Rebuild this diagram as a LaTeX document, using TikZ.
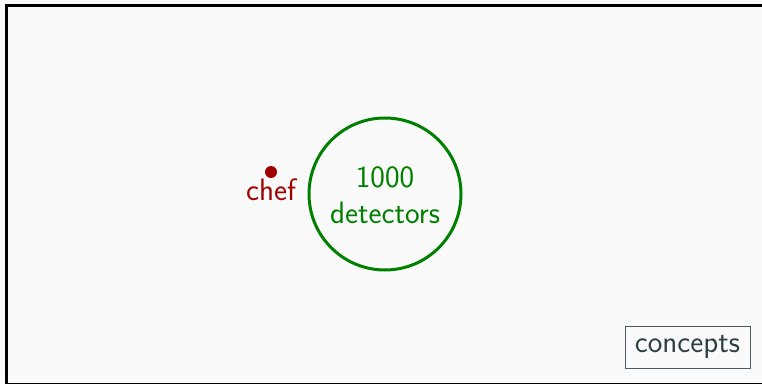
\documentclass[tikz,border=0pt]{standalone}
\usepackage{tikz}
\definecolor{bg}{HTML}{FAFAFA}
\definecolor{detgreen}{HTML}{008000}
\definecolor{chefred}{HTML}{A00000}
\definecolor{slate}{HTML}{2F3F46}
\definecolor{boxgray}{HTML}{4A5A60}
\begin{document}
\begin{tikzpicture}[x=1pt,y=-1pt,
  lbl/.style={font=\sffamily\fontsize{31}{36}\selectfont, inner sep=0pt, align=center}]
\useasboundingbox (0,0) rectangle (762,383);
\fill[bg] (0,0) rectangle (762,383);
\begin{scope}
\clip (0,0) rectangle (762,383);
\draw[black, line width=3pt] (6.5,5.5) rectangle (763.2,384.2);
\end{scope}
\node[draw=detgreen, line width=3pt, circle, minimum size=152pt, inner sep=0pt] (det) at (385,194) {};
\node[lbl, text=detgreen] (dettext) at (385,195) {1000\\detectors};
\fill[chefred] (271,172) circle (6pt) coordinate (chefdot);
\node[lbl, text=chefred] (chef) at (271,190) {chef};
\node[lbl, text=slate, draw=boxgray, line width=1pt, minimum width=125pt, minimum height=42pt] (concepts) at (687.5,347) {concepts};
\end{tikzpicture}
\end{document}
